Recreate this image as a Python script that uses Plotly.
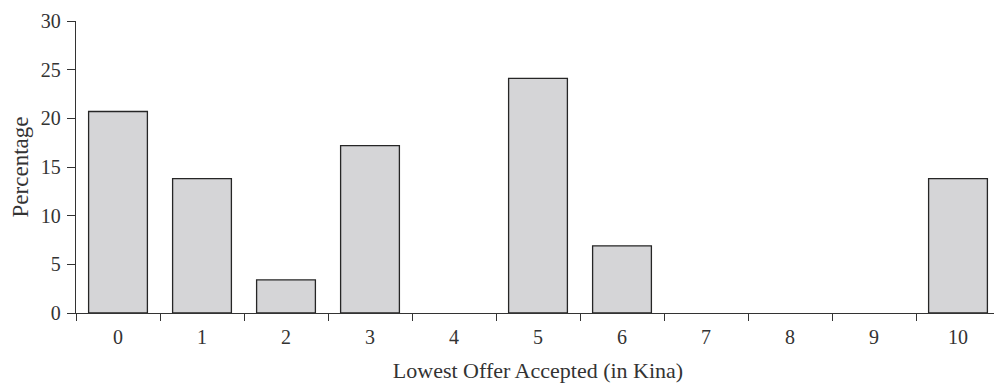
import plotly.graph_objects as go

categories = ["0", "1", "2", "3", "4", "5", "6", "7", "8", "9", "10"]
percentages = [20.7, 13.8, 3.4, 17.2, 0, 24.1, 6.9, 0, 0, 0, 13.8]
y_ticks = [0, 5, 10, 15, 20, 25, 30]

FONT = "Liberation Serif"
TXT = "#333333"

# no outline on empty (zero-height) bars, so they vanish into the axis line
outline_widths = [1.3 if v > 0 else 0 for v in percentages]

fig = go.Figure(
    go.Bar(
        x=categories,
        y=percentages,
        width=0.7,
        marker=dict(color="#d5d5d7", line=dict(color="#262626", width=outline_widths)),
        hoverinfo="x+y",
    )
)

# page body has an 8px margin, so the figure is sized/offset to compensate
fig.update_layout(
    width=994,
    height=376,
    margin=dict(l=68, r=2, t=8, b=71),
    paper_bgcolor="white",
    plot_bgcolor="white",
    font=dict(family=FONT, size=20, color=TXT),
    showlegend=False,
    bargap=0.3,
)

fig.update_xaxes(
    type="category",
    range=[-0.5, 10.5],
    tickson="boundaries",
    ticks="outside",
    ticklen=7,
    tickwidth=1.3,
    tickcolor="#333333",
    showline=True,
    linecolor="#333333",
    linewidth=1.3,
    showgrid=False,
    zeroline=False,
    ticklabeloverflow="allow",
    ticklabelstandoff=6,
    title=dict(text="Lowest Offer Accepted (in Kina)", font=dict(size=22, family=FONT, color=TXT), standoff=15),
    tickfont=dict(size=20, family=FONT, color=TXT),
)

fig.update_yaxes(
    range=[0, 30],
    tickvals=y_ticks,
    ticks="outside",
    ticklen=8,
    tickwidth=1.3,
    tickcolor="#333333",
    showline=True,
    linecolor="#333333",
    linewidth=1.3,
    showgrid=False,
    zeroline=False,
    ticklabeloverflow="allow",
    ticklabelstandoff=2,
    title=dict(text="Percentage", font=dict(size=23, family=FONT, color=TXT), standoff=5),
    tickfont=dict(size=20, family=FONT, color=TXT),
)

fig.write_html("out.html")
